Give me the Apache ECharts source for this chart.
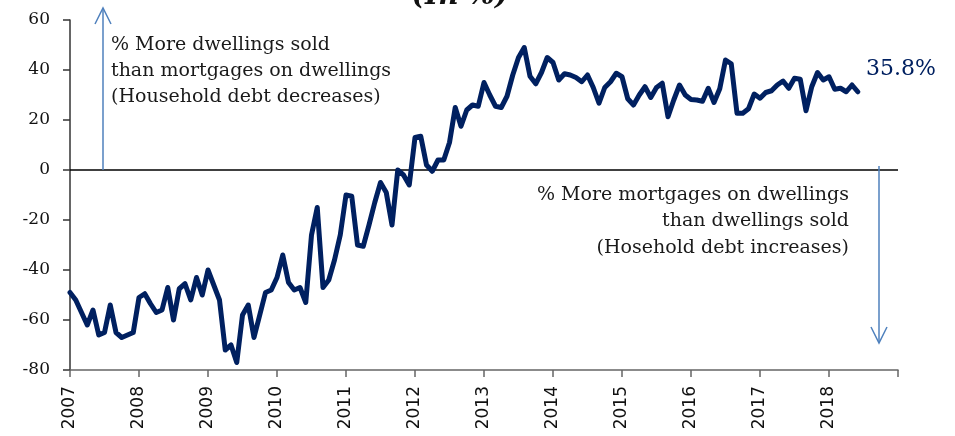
<!DOCTYPE html>
<html>
<head>
<meta charset="utf-8">
<script src="https://cdn.jsdelivr.net/npm/echarts@6/dist/echarts.min.js"></script>
<style>
  html, body { margin: 0; padding: 0; background: #fff; }
  #chart { width: 955px; height: 436px; }
</style>
</head>
<body>
<div id="chart"></div>
<script>
// Monthly balance: dwellings sold vs. mortgages on dwellings (in %), Jan 2007 – Jun 2018
const startYear = 2007;
const values = [
  -49, -52, -57, -62, -56, -66, -65, -54, -65, -67, -66, -65,
  -51, -49.5, -53.5, -57, -56, -47, -60, -47.5, -45.5, -52, -43, -50,
  -40, -46, -52, -72, -70, -77, -58, -54, -67, -58, -49, -48,
  -43, -34, -45, -48, -47, -53, -26, -15, -47, -44, -36, -26,
  -10, -10.5, -30, -30.5, -22, -13, -5, -9, -22, 0, -2, -6,
  13, 13.5, 2, -0.5, 4, 4, 11, 25, 17.5, 24, 26, 25.5,
  35, 30, 25.5, 25, 29.5, 38, 45, 49, 37.5, 34.5, 39, 45,
  43, 36, 38.5, 38, 37, 35.3, 38, 33, 26.7, 33, 35.3, 38.7,
  37.3, 28.5, 26, 30, 33.3, 29, 33, 34.7, 21.3, 28, 34, 30,
  28.2, 28, 27.5, 32.7, 27, 32.5, 44, 42.5, 22.7, 22.7, 24.5, 30.4,
  28.7, 31, 31.7, 34, 35.6, 32.7, 36.7, 36.3, 23.7, 33.3, 39, 36,
  37.3, 32.3, 32.7, 31.3, 34, 31.3
];
const yearTicks = [2007, 2008, 2009, 2010, 2011, 2012, 2013, 2014, 2015, 2016, 2017, 2018];
const yTicks = [-80, -60, -40, -20, 0, 20, 40, 60];
const lastLabel = '35.8%';
const titleText = '(In %)';
const upNote = ['% More dwellings sold', 'than mortgages on dwellings', '(Household debt decreases)'];
const downNote = ['% More mortgages on dwellings', 'than dwellings sold', '(Hosehold debt increases)'];

const navy = '#002060';
const arrowBlue = '#4f81bd';
const serif = '"DejaVu Serif", serif';

const seriesData = values.map((v, i) => [startYear + i / 12, v]);

const chart = echarts.init(document.getElementById('chart'), null, { renderer: 'canvas' });

function noteLines(lines, x, y0, step, align) {
  return lines.map((t, k) => ({
    type: 'text',
    x: x,
    y: y0 + k * step,
    style: {
      text: t,
      font: '19px ' + serif,
      fill: '#1a1a1a',
      textAlign: align,
      textVerticalAlign: 'middle'
    },
    z: 10
  }));
}

// Thin annotation arrow with an open chevron head
function arrow(x, y1, y2, head) {
  const dir = y2 < y1 ? 1 : -1;
  return [
    { type: 'line', shape: { x1: x, y1: y1, x2: x, y2: y2 },
      style: { stroke: arrowBlue, lineWidth: 1.5 }, z: 10 },
    { type: 'polyline', shape: { points: [[x - 8, y2 + dir * head], [x, y2], [x + 8, y2 + dir * head]] },
      style: { stroke: arrowBlue, lineWidth: 1.5, fill: null }, z: 10 }
  ];
}

const option = {
  animation: false,
  backgroundColor: '#ffffff',
  grid: { left: 70, right: 57, top: 20, bottom: 66, containLabel: false },
  xAxis: {
    type: 'value',
    min: 2007,
    max: 2019,
    interval: 1,
    axisLine: { show: true, onZero: false, lineStyle: { color: '#666', width: 1.5 } },
    axisTick: { show: true, length: 7, lineStyle: { color: '#666', width: 1.5 } },
    splitLine: { show: false },
    axisLabel: {
      rotate: 90,
      margin: 16,
      fontFamily: '"DejaVu Sans", sans-serif',
      fontSize: 17,
      color: '#111',
      formatter: v => (yearTicks.indexOf(v) >= 0 ? String(v) : '')
    }
  },
  yAxis: {
    type: 'value',
    min: yTicks[0],
    max: yTicks[yTicks.length - 1],
    interval: 20,
    axisLine: { show: true, onZero: false, lineStyle: { color: '#333', width: 1.5 } },
    axisTick: { show: true, length: 7, lineStyle: { color: '#333', width: 1.5 } },
    splitLine: { show: false },
    axisLabel: { margin: 20, fontFamily: serif, fontSize: 17, color: '#111' }
  },
  series: [{
    type: 'line',
    data: seriesData,
    showSymbol: false,
    symbol: 'none',
    lineStyle: { color: navy, width: 5, join: 'round', cap: 'round' },
    z: 5,
    markLine: {
      silent: true,
      symbol: ['none', 'none'],
      label: { show: false },
      lineStyle: { color: '#000', width: 1.5, type: 'solid' },
      data: [{ yAxis: 0 }],
      z: 4
    }
  }],
  graphic: [
    { type: 'text', x: 460, y: -3,
      style: { text: titleText, font: 'italic bold 28px ' + serif, fill: '#111',
               textAlign: 'center', textVerticalAlign: 'middle' } },
    { type: 'text', x: 866, y: 69,
      style: { text: lastLabel, font: '22px ' + serif, fill: navy,
               textAlign: 'left', textVerticalAlign: 'middle' } },
    ...noteLines(upNote, 111, 45, 26, 'left'),
    ...noteLines(downNote, 849, 195, 26.5, 'right'),
    ...arrow(103, 170, 8, 16),
    ...arrow(879, 166, 343, 16)
  ]
};

chart.setOption(option);
</script>
</body>
</html>
